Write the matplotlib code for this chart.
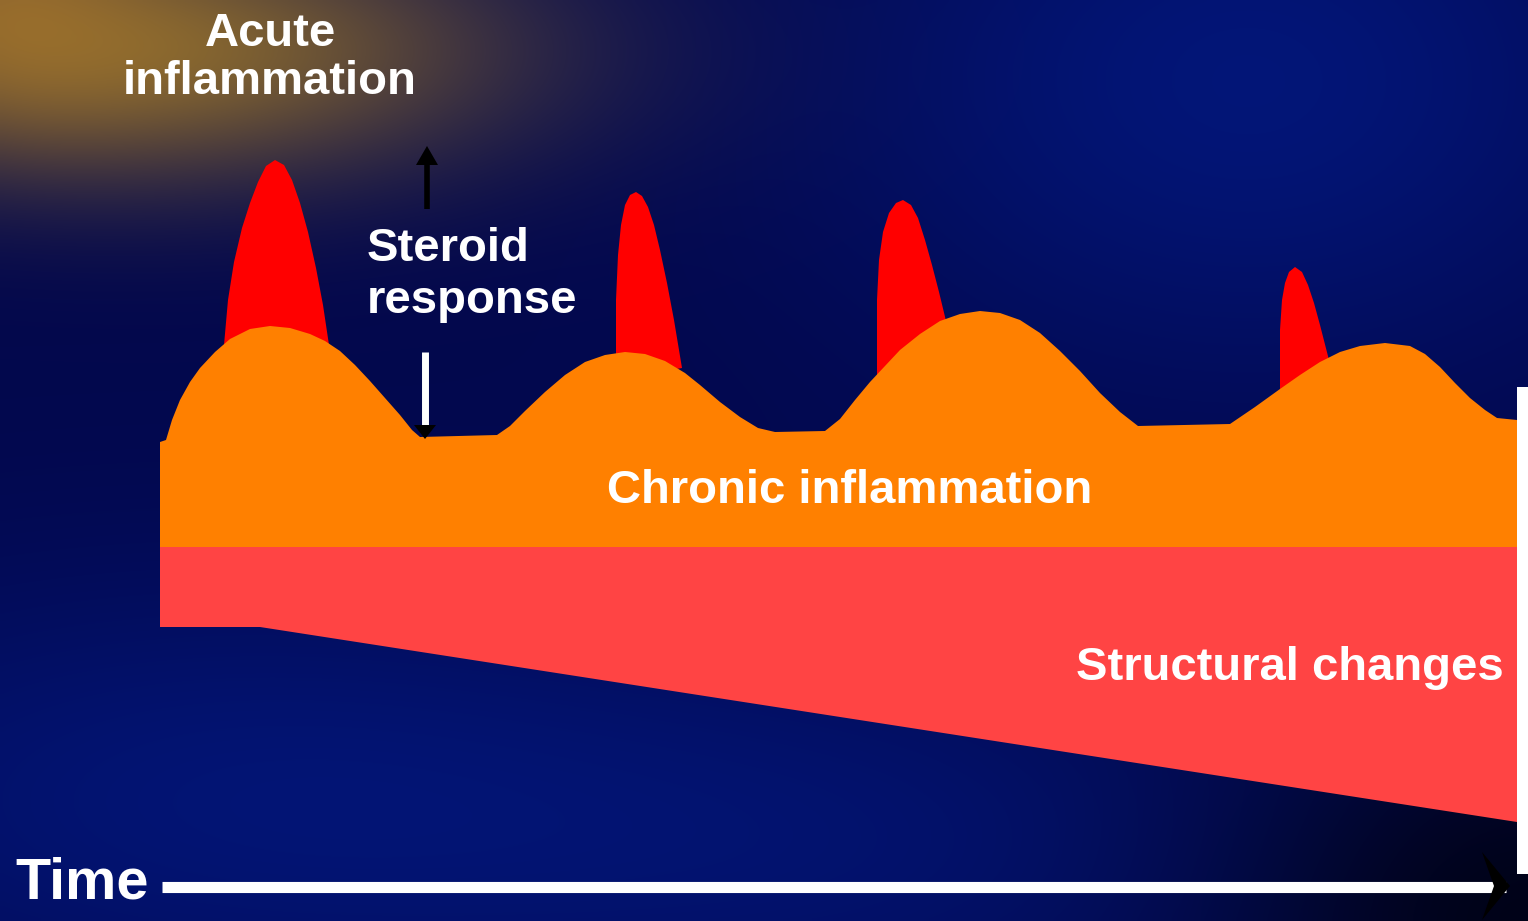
import numpy as np
import matplotlib.pyplot as plt
from matplotlib.patches import Polygon

# chronic inflammation outline (x, y in picture pixels, y down)
chronic_x = [160, 160, 166, 172, 180, 190, 200, 215, 230, 250, 270, 290, 310, 325, 340, 355, 370,
             385, 400, 412, 420, 497, 510, 525, 545, 565, 585, 605, 625, 645, 665, 685, 700, 720,
             740, 758, 775, 825, 840, 855, 870, 885, 900, 920, 940, 960, 980, 1000, 1020, 1040,
             1060, 1080, 1100, 1120, 1138, 1230, 1255, 1280, 1300, 1320, 1340, 1360, 1385, 1410,
             1425, 1440, 1455, 1470, 1485, 1497, 1517, 1517]
chronic_y = [547, 442, 440, 420, 400, 382, 368, 352, 339, 329, 326, 328, 334, 341, 351, 365, 381,
             398, 415, 430, 437, 435, 426, 411, 392, 375, 362, 355, 352, 354, 361, 373, 385, 402,
             417, 428, 432, 431, 419, 400, 382, 366, 350, 334, 321, 314, 311, 313, 320, 333,
             351, 371, 393, 412, 426, 424, 407, 389, 375, 362, 352, 346, 343, 346,
             354, 367, 383, 398, 410, 418, 420, 547]

# acute flare-ups (red peaks)
peak1_x = [224, 228, 234, 242, 250, 258, 266, 275, 284, 292, 300, 308, 316, 323, 329]
peak1_y = [345, 300, 262, 228, 203, 182, 166, 160, 165, 180, 203, 232, 268, 305, 345]
peak2_x = [616, 616, 618, 621, 625, 630, 636, 642, 648, 654, 660, 667, 674, 682]
peak2_y = [380, 300, 255, 225, 205, 195, 192, 196, 207, 225, 250, 283, 320, 368]
peak3_x = [877, 877, 879, 883, 889, 896, 903, 911, 918, 925, 932, 939, 947]
peak3_y = [390, 300, 260, 232, 213, 203, 200, 205, 218, 240, 265, 292, 325]
peak4_x = [1280, 1280, 1282, 1285, 1289, 1295, 1302, 1308, 1314, 1320, 1329]
peak4_y = [400, 330, 300, 283, 272, 267, 272, 285, 303, 325, 360]

# structural changes wedge
struct_x = [160, 1517, 1517, 260, 160]
struct_y = [547, 547, 822, 627, 627]

W, H = 1528, 921
fig = plt.figure(figsize=(W / 100, H / 100), dpi=100)
ax = fig.add_axes([0, 0, 1, 1])
ax.set_xlim(0, W)
ax.set_ylim(H, 0)
ax.axis("off")

# background: dark navy with blue patches and a brown glow top-left
gx, gy = np.meshgrid(np.linspace(0, W, 306), np.linspace(0, H, 185))


def blob(cx, cy, sx, sy):
    return np.exp(-(((gx - cx) / sx) ** 2 + ((gy - cy) / sy) ** 2))


bg = np.zeros(gy.shape + (3,))
bg[..., 0] = 0.01
bg[..., 1] = 0.03
bg[..., 2] = 0.30
blue = 0.6 * blob(1250, 80, 420, 300) + 0.5 * blob(200, 800, 550, 230) + 0.35 * blob(900, 850, 500, 200)
bg[..., 1] += 0.09 * blue
bg[..., 2] += 0.28 * blue
dark = blob(1528, 921, 300, 220) * 0.7
bg *= (1 - dark)[..., None]
glow = blob(150, 50, 420, 150) ** 1.3
glow_col = np.array([0.55, 0.42, 0.18])
bg = bg * (1 - 0.92 * glow[..., None]) + glow_col * 0.92 * glow[..., None]
corner = blob(0, 0, 160, 120)
bg = bg * (1 - 0.6 * corner[..., None]) + np.array([0.72, 0.5, 0.15]) * 0.6 * corner[..., None]
ax.imshow(np.clip(bg, 0, 1), extent=(0, W, H, 0), aspect="auto", interpolation="bilinear", zorder=0)

for px, py in [(peak1_x, peak1_y), (peak2_x, peak2_y), (peak3_x, peak3_y), (peak4_x, peak4_y)]:
    ax.add_patch(Polygon(np.column_stack([px, py]), closed=True, fc="#ff0000", ec="none", zorder=2))
ax.add_patch(Polygon(np.column_stack([chronic_x, chronic_y]), closed=True, fc="#ff8000", ec="none", zorder=3))
ax.add_patch(Polygon(np.column_stack([struct_x, struct_y]), closed=True, fc="#ff4444", ec="none", zorder=3))

# right white bar
ax.add_patch(plt.Rectangle((1517, 387), 11, 487, fc="white", ec="none", zorder=4))

# steroid arrows
ax.plot([427, 427], [160, 209], color="black", lw=4, solid_capstyle="butt", zorder=5)
ax.add_patch(Polygon([[416, 165], [438, 165], [427, 146]], closed=True, fc="black", ec="none", zorder=5))
ax.plot([425, 425], [352, 428], color="white", lw=5, solid_capstyle="butt", zorder=5)
ax.add_patch(Polygon([[414, 425], [436, 425], [425, 439]], closed=True, fc="black", ec="none", zorder=5))

# time axis
ax.plot([162, 1506], [887, 887], color="white", lw=8, solid_capstyle="butt", zorder=5)
ax.add_patch(Polygon([[1482, 852], [1510, 886], [1482, 920], [1494, 886]], closed=True,
                     fc="black", ec="none", zorder=6))

font = dict(family="Liberation Sans", weight="bold", color="white", zorder=7)
ax.text(270, 58, "Acute\ninflammation", ha="center", va="center", fontsize=34, linespacing=1.12, **font)
ax.text(367, 275, "Steroid\nresponse", ha="left", va="center", fontsize=34, linespacing=1.22, **font)
ax.text(850, 491, "Chronic inflammation", ha="center", va="center", fontsize=34, **font)
ax.text(1076, 668, "Structural changes", ha="left", va="center", fontsize=34, **font)
ax.text(15, 883, "Time", ha="left", va="center", fontsize=41.5, **font)

fig.savefig("out.png", dpi=100)
